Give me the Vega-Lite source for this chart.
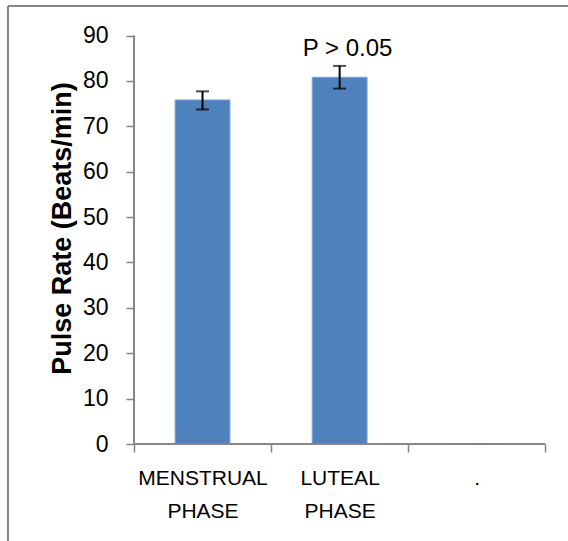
{
  "$schema": "https://vega.github.io/schema/vega-lite/v6.json",
  "width": 564,
  "height": 539,
  "autosize": "none",
  "padding": {"left": 8, "top": 6, "right": -4, "bottom": -4},
  "background": "white",
  "config": {
    "view": {"stroke": null},
    "font": "Liberation Sans"
  },
  "data": {
    "values": [
      {"phase": "MENSTRUAL PHASE", "pulse": 75.8, "lo": 73.7, "hi": 77.7, "note": ""},
      {"phase": "LUTEAL PHASE", "pulse": 80.8, "lo": 78.3, "hi": 83.3, "note": "P > 0.05"},
      {"phase": ".", "pulse": 0, "lo": 0, "hi": 0, "note": ""}
    ]
  },
  "layer": [
    {
      "mark": {"type": "bar", "width": {"band": 0.4}, "color": "#4F81BD", "stroke": "#7FA3D3", "strokeWidth": 1},
      "encoding": {
        "x": {
          "field": "phase", "type": "nominal", "sort": null,
          "scale": {"domain": ["MENSTRUAL PHASE", "LUTEAL PHASE", "."], "paddingInner": 0, "paddingOuter": 0.5569, "align": 0.825},
          "axis": {
            "orient": "bottom", "offset": -101, "domain": false, "grid": false,
            "tickBand": "extent", "tickSize": 8, "tickColor": "#868686", "tickWidth": 1.5,
            "labelAngle": 0, "labelFontSize": 21, "labelColor": "black", "labelPadding": 15,
            "labelLineHeight": 33, "labelBaseline": "top",
            "labelExpr": "split(datum.label, ' ')", "title": null
          }
        },
        "y": {
          "field": "pulse", "type": "quantitative", "title": "Pulse Rate (Beats/min)",
          "scale": {"domain": [-22.25, 96.5], "nice": false, "zero": false},
          "axis": {
            "values": [0, 10, 20, 30, 40, 50, 60, 70, 80, 90],
            "offset": -126, "domain": false, "grid": false,
            "tickSize": 8, "tickColor": "#868686", "tickWidth": 1.5,
            "labelFontSize": 23, "labelColor": "black", "labelPadding": 18,
            "titleFontSize": 27, "titleFontWeight": "bold",
            "titleColor": "black", "titleX": -72, "titleY": 222, "titleBaseline": "middle",
            "titleAlign": "center", "titleAngle": -90
          }
        }
      }
    },
    {
      "mark": {"type": "errorbar", "ticks": {"size": 13}, "thickness": 2, "color": "black"},
      "encoding": {
        "x": {"field": "phase", "type": "nominal", "sort": null},
        "y": {"field": "lo", "type": "quantitative", "title": "Pulse Rate (Beats/min)"},
        "y2": {"field": "hi"}
      }
    },
    {
      "mark": {"type": "text", "fontSize": 24, "baseline": "alphabetic", "align": "center", "dx": 8, "dy": -10, "color": "black"},
      "encoding": {
        "x": {"field": "phase", "type": "nominal", "sort": null},
        "y": {"field": "hi", "type": "quantitative", "title": "Pulse Rate (Beats/min)"},
        "text": {"field": "note"}
      }
    },
    {
      "mark": {"type": "rule", "color": "#868686", "strokeWidth": 1.5},
      "encoding": {
        "x": {"datum": "MENSTRUAL PHASE", "type": "nominal", "bandPosition": 0},
        "y": {"datum": 0, "type": "quantitative", "title": "Pulse Rate (Beats/min)"},
        "y2": {"datum": 90}
      }
    },
    {
      "mark": {"type": "rule", "color": "#868686", "strokeWidth": 1.5},
      "encoding": {
        "x": {"datum": "MENSTRUAL PHASE", "type": "nominal", "bandPosition": 0},
        "x2": {"datum": ".", "bandPosition": 1},
        "y": {"datum": 0, "type": "quantitative", "title": "Pulse Rate (Beats/min)"}
      }
    },
    {
      "mark": {"type": "rule", "color": "#868686", "strokeWidth": 2},
      "encoding": {
        "x": {"datum": "MENSTRUAL PHASE", "type": "nominal", "bandPosition": -0.919},
        "x2": {"datum": ".", "bandPosition": 1.2},
        "y": {"datum": 96.5, "type": "quantitative", "title": "Pulse Rate (Beats/min)"}
      }
    },
    {
      "mark": {"type": "rule", "color": "#868686", "strokeWidth": 2},
      "encoding": {
        "x": {"datum": "MENSTRUAL PHASE", "type": "nominal", "bandPosition": -0.919},
        "y": {"datum": -22.25, "type": "quantitative", "title": "Pulse Rate (Beats/min)"},
        "y2": {"datum": 96.5}
      }
    }
  ]
}
